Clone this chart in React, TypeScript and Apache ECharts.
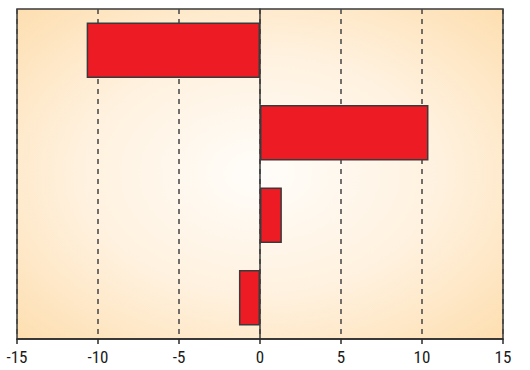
import React, { useEffect, useRef } from "react";
import * as echarts from "echarts";

const categories = ["A", "B", "C", "D"];
const values = [-10.7, 10.4, 1.35, -1.3];
const xTicks = { min: -15, max: 15, interval: 5 };

export default function App() {
  const ref = useRef<HTMLDivElement>(null);
  useEffect(() => {
    const chart = echarts.init(ref.current!, null, { renderer: "svg" });
    chart.setOption({
      animation: false,
      grid: {
        left: 17,
        right: 27,
        top: 9,
        bottom: 31,
        show: true,
        borderColor: "#3a3a3a",
        borderWidth: 1.5,
        backgroundColor: {
          type: "radial",
          x: 0.5,
          y: 0.5,
          r: 0.75,
          colorStops: [
            { offset: 0, color: "#fffdfa" },
            { offset: 0.5, color: "#fff1de" },
            { offset: 1, color: "#fddcaa" },
          ],
        },
      },
      xAxis: {
        type: "value",
        min: xTicks.min,
        max: xTicks.max,
        interval: xTicks.interval,
        axisLine: { show: true, onZero: false, lineStyle: { color: "#2a2a2a", width: 1.5 } },
        axisTick: { show: true, length: 5, lineStyle: { color: "#2a2a2a", width: 1.5 } },
        axisLabel: {
          color: "#1a1a1a",
          fontSize: 17,
          margin: 9,
          fontFamily: "'Liberation Sans Narrow', 'Roboto Condensed', 'DejaVu Sans Condensed', sans-serif",
        },
        splitLine: {
          show: true,
          lineStyle: { type: [5, 5], color: "#444", width: 1.5 },
        },
      },
      yAxis: {
        type: "category",
        data: categories,
        inverse: true,
        axisLine: { show: true, onZero: true, lineStyle: { color: "#3a3a3a", width: 1.5 } },
        axisTick: { show: false },
        axisLabel: { show: false },
        splitLine: { show: false },
      },
      series: [
        {
          type: "bar",
          data: values,
          barWidth: "67%",
          itemStyle: { color: "#ed1c24", borderColor: "#3a3a3a", borderWidth: 1.5 },
        },
      ],
    });
    return () => chart.dispose();
  }, []);
  return (
    <div
      ref={ref}
      style={{ position: "absolute", left: 0, top: 0, width: 530, height: 370 }}
    />
  );
}
